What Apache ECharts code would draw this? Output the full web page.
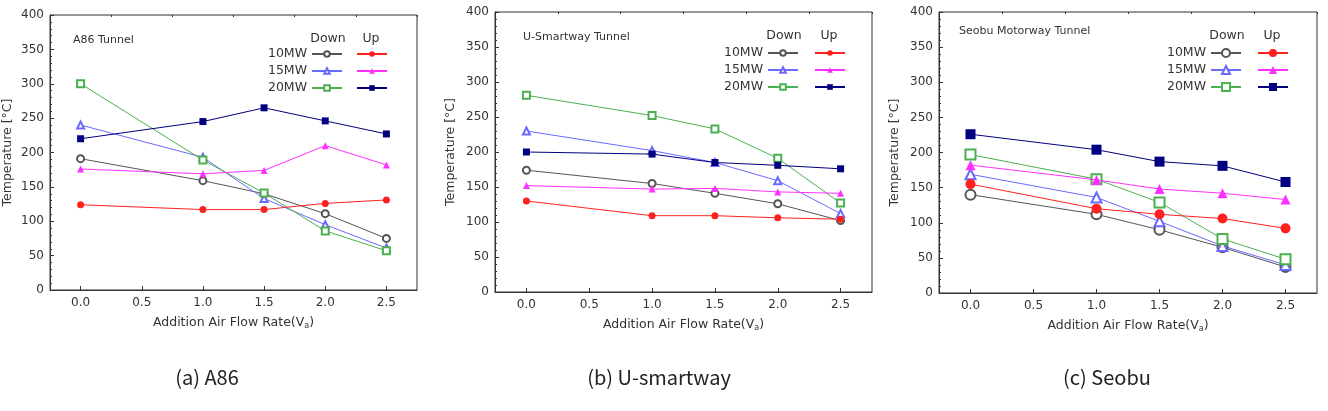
<html lang="en">
<head>
  <meta charset="UTF-8">
  <title>Tunnel temperature</title>
  <style>
    *{ margin: 0; padding: 0; }
    body{ background: #fff; }
    #main{ width: 1328px; height: 411px; }
  </style>
</head>
<body>
  <div id="main"></div>
  <script src="https://cdn.jsdelivr.net/npm/echarts@6/dist/echarts.min.js"></script>
  <script type="text/javascript">
  // data
  var flowRates = [0.0, 1.0, 1.5, 2.0, 2.5];
  var xTickLabels = [0.0, 0.5, 1.0, 1.5, 2.0, 2.5];
  var rowLabels = ['10MW', '15MW', '20MW'];

  var a86Down10 = [191, 159, 140, 111, 75];
  var a86Down15 = [240, 193, 133, 95, 61];
  var a86Down20 = [300, 189, 141, 86, 57];
  var a86Up10 = [124, 117, 117, 126, 131];
  var a86Up15 = [176, 169, 174, 210, 182];
  var a86Up20 = [220, 245, 265, 246, 227];

  var usDown10 = [174, 155, 141, 126, 102];
  var usDown15 = [230, 202, 185, 159, 112];
  var usDown20 = [281, 252, 233, 191, 127];
  var usUp10 = [130, 109, 109, 106, 104];
  var usUp15 = [152, 147, 148, 143, 141];
  var usUp20 = [200, 197, 185, 181, 176];

  var sbDown10 = [140, 112, 90, 65, 37];
  var sbDown15 = [169, 136, 102, 67, 40];
  var sbDown20 = [197, 162, 129, 77, 48];
  var sbUp10 = [155, 120, 112, 106, 92];
  var sbUp15 = [182, 161, 148, 142, 133];
  var sbUp20 = [226, 204, 187, 181, 158];

  var font = 'DejaVu Sans';
  var ink = '#333';

  // marker / colour per row (down = open, up = filled)
  var downStyle = [
    { symbol: 'emptyCircle', color: '#555' },
    { symbol: 'emptyTriangle', color: '#6a6aff' },
    { symbol: 'emptyRect', color: '#4caf50' }
  ];
  var upStyle = [
    { symbol: 'circle', color: '#ff2020' },
    { symbol: 'triangle', color: '#ff30ff' },
    { symbol: 'rect', color: '#000080' }
  ];

  var panels = [
    { key: 'A86', title: 'A86 Tunnel', caption: '(a) A86', down: [a86Down10, a86Down15, a86Down20], up: [a86Up10, a86Up15, a86Up20],
      grid: { left: 46, top: 15, width: 371, height: 275 }, size: 7, legSize: 7,
      titleX: 73, titleY: 42, downX: 328, upX: 371, headY: 39, row1: 54, nameGap: 36, capX: 207 },
    { key: 'US', title: 'U-Smartway Tunnel', caption: '(b) U-smartway', down: [usDown10, usDown15, usDown20], up: [usUp10, usUp15, usUp20],
      grid: { left: 495, top: 12, width: 377, height: 280 }, size: 7, legSize: 7,
      titleX: 523, titleY: 39, downX: 784, upX: 829, headY: 36, row1: 53, nameGap: 38, capX: 659 },
    { key: 'SB', title: 'Seobu Motorway Tunnel', caption: '(c) Seobu', down: [sbDown10, sbDown15, sbDown20], up: [sbUp10, sbUp15, sbUp20],
      grid: { left: 939, top: 12, width: 378, height: 281 }, size: 10, legSize: 10,
      titleX: 959, titleY: 33, downX: 1227, upX: 1272, headY: 36, row1: 53, nameGap: 38, capX: 1107 }
  ];

  var grids = [], xAxes = [], yAxes = [], series = [], legends = [], graphics = [];

  function pairs(vals) {
    return flowRates.map(function (x, i) { return [x, vals[i]]; });
  }

  panels.forEach(function (p, gi) {
    grids.push(Object.assign({ show: true, borderColor: ink, borderWidth: 1 }, p.grid));

    // main x axis (labels + major ticks)
    xAxes.push({
      gridIndex: gi, type: 'value', min: -0.25, max: 2.75,
      name: 'Addition Air Flow Rate(V{s|a})', nameLocation: 'middle', nameGap: 25,
      nameTextStyle: { fontFamily: font, fontSize: 12.5, color: ink,
        rich: { s: { fontFamily: font, fontSize: 8, color: ink, padding: [7, 0, 0, 0] } } },
      axisLine: { onZero: false, lineStyle: { color: ink } },
      axisTick: { inside: true, length: 4, lineStyle: { color: ink }, customValues: xTickLabels },
      axisLabel: { customValues: xTickLabels, fontFamily: font, fontSize: 12, color: ink, margin: 7,
        formatter: function (v) { return v.toFixed(1); } },
      splitLine: { show: false }
    });
    // helper axis for the small in-between ticks
    xAxes.push({
      gridIndex: gi, type: 'value', min: -0.25, max: 2.75, interval: 0.5,
      axisLine: { show: false, onZero: false }, axisLabel: { show: false }, splitLine: { show: false },
      axisTick: { inside: true, length: 2, lineStyle: { color: ink } }
    });

    yAxes.push({
      gridIndex: gi, type: 'value', min: 0, max: 400, interval: 50,
      name: 'Temperature [°C]', nameLocation: 'middle', nameGap: p.nameGap,
      nameTextStyle: { fontFamily: font, fontSize: 12.5, color: ink },
      axisLine: { show: true, onZero: false, lineStyle: { color: ink } },
      axisTick: { inside: true, length: 4, lineStyle: { color: ink } },
      minorTick: { show: true, splitNumber: 5, length: 2, lineStyle: { color: ink } },
      axisLabel: { fontFamily: font, fontSize: 12, color: ink, margin: 6 },
      splitLine: { show: false }
    });

    var downNames = [], upNames = [];
    [0, 1, 2].forEach(function (r) {
      var dn = p.key + ' ' + rowLabels[r] + ' Down';
      var un = p.key + ' ' + rowLabels[r] + ' Up';
      downNames.push(dn); upNames.push(un);
      series.push({
        name: dn, type: 'line', xAxisIndex: gi * 2, yAxisIndex: gi,
        data: pairs(p.down[r]), symbol: downStyle[r].symbol, symbolSize: p.size,
        itemStyle: { color: downStyle[r].color, borderWidth: 1 },
        lineStyle: { color: downStyle[r].color, width: 1 }, z: 3
      });
      series.push({
        name: un, type: 'line', xAxisIndex: gi * 2, yAxisIndex: gi,
        data: pairs(p.up[r]), symbol: upStyle[r].symbol, symbolSize: p.size,
        itemStyle: { color: upStyle[r].color },
        lineStyle: { color: upStyle[r].color, width: 1 }, z: 4
      });
    });

    // two legend columns: "Down" (with row labels) and "Up", same row layout
    var legText = { fontFamily: font, fontSize: 12.5, color: ink, lineHeight: 12 };
    legends.push({
      data: downNames, orient: 'vertical', align: 'right', padding: 0,
      right: 1328 - (p.downX + 15), top: p.row1 - 6.5,
      itemWidth: 30, itemHeight: p.legSize, itemGap: 4,
      textStyle: legText,
      formatter: function (name) { return name.split(' ')[1]; }
    });
    legends.push({
      data: upNames, orient: 'vertical', align: 'left', padding: 0,
      left: p.upX - 15, top: p.row1 - 6.5,
      itemWidth: 30, itemHeight: p.legSize, itemGap: 4,
      textStyle: legText,
      formatter: function () { return ' '; }
    });

    graphics.push({ type: 'text', left: p.titleX, top: p.titleY - 7,
      style: { text: p.title, font: '11px "' + font + '"', fill: ink } });
    graphics.push({ type: 'text', x: p.downX, y: p.headY,
      style: { text: 'Down', font: '12.5px "' + font + '"', fill: ink, align: 'center', verticalAlign: 'middle' } });
    graphics.push({ type: 'text', x: p.upX, y: p.headY,
      style: { text: 'Up', font: '12.5px "' + font + '"', fill: ink, align: 'center', verticalAlign: 'middle' } });
    graphics.push({ type: 'text', x: p.capX, y: 377,
      style: { text: p.caption, font: '20px "Noto Sans CJK KR"', fill: '#222', align: 'center', verticalAlign: 'middle' } });
  });

  var myChart = echarts.init(document.getElementById('main'));
  var option = {
    animation: false,
    backgroundColor: '#fff',
    grid: grids,
    xAxis: xAxes,
    yAxis: yAxes,
    legend: legends,
    series: series,
    graphic: graphics
  };
  myChart.setOption(option);
  </script>
</body>
</html>
